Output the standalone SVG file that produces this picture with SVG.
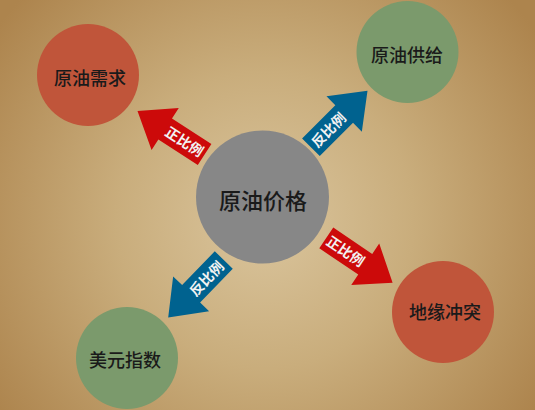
<svg xmlns="http://www.w3.org/2000/svg" width="535" height="410" viewBox="0 0 535 410">
  <defs>
    <radialGradient id="bg" cx="265" cy="220" r="330" gradientUnits="userSpaceOnUse">
      <stop offset="0" stop-color="#dac59d"/>
      <stop offset="0.45" stop-color="#c9ad7c"/>
      <stop offset="1" stop-color="#ad844d"/>
    </radialGradient>
    <path id="arrow" d="M0,0 L-33,-25 L-33,-12.5 L-80,-12.5 L-80,12.5 L-33,12.5 L-33,25 Z"/>
  </defs>
  <style>
    .red { fill: #c0553a; }
    .green { fill: #7b9a6c; }
    .gray { fill: #878787; }
    .ared { fill: #cc0a0a; }
    .ablue { fill: #00628f; }
    .lbl { font-family: "Noto Sans CJK SC", "Liberation Sans", sans-serif; font-size: 18px; font-weight: 500; fill: #1a1a1a; text-anchor: middle; dominant-baseline: central; }
    .big { font-size: 22px; }
    .alb { font-family: "Noto Sans CJK SC", "Liberation Sans", sans-serif; font-size: 14px; font-weight: 700; fill: #f2f2f2; text-anchor: middle; dominant-baseline: central; }
  </style>
  <rect width="535" height="410" fill="url(#bg)"/>

  <g id="connectors">
    <g id="arrow-demand">
      <use href="#arrow" class="ared" transform="translate(137.5,111) rotate(213)"/>
      <text class="alb" transform="translate(185,141) rotate(33)">正比例</text>
    </g>
    <g id="arrow-supply">
      <use href="#arrow" class="ablue" transform="translate(367.5,90.7) rotate(-45)"/>
      <text class="alb" transform="translate(328,129.5) rotate(-45)">反比例</text>
    </g>
    <g id="arrow-conflict">
      <use href="#arrow" class="ared" transform="translate(392.6,282.7) rotate(34)"/>
      <text class="alb" transform="translate(346,250.5) rotate(34)">正比例</text>
    </g>
    <g id="arrow-usd">
      <use href="#arrow" class="ablue" transform="translate(168.2,317.5) rotate(134)"/>
      <text class="alb" transform="translate(206,278) rotate(-46)">反比例</text>
    </g>
  </g>

  <g id="node-price">
    <circle class="gray" cx="262.5" cy="197" r="66.5"/>
    <text class="lbl big" x="263" y="199">原油价格</text>
  </g>
  <g id="node-demand">
    <circle class="red" cx="88" cy="75" r="51"/>
    <text class="lbl" x="90" y="77">原油需求</text>
  </g>
  <g id="node-supply">
    <circle class="green" cx="407.5" cy="52" r="51"/>
    <text class="lbl" x="407" y="54">原油供给</text>
  </g>
  <g id="node-conflict">
    <circle class="red" cx="443" cy="312" r="51"/>
    <text class="lbl" x="445" y="311">地缘冲突</text>
  </g>
  <g id="node-usd">
    <circle class="green" cx="127" cy="358" r="51"/>
    <text class="lbl" x="125" y="359">美元指数</text>
  </g>
</svg>
